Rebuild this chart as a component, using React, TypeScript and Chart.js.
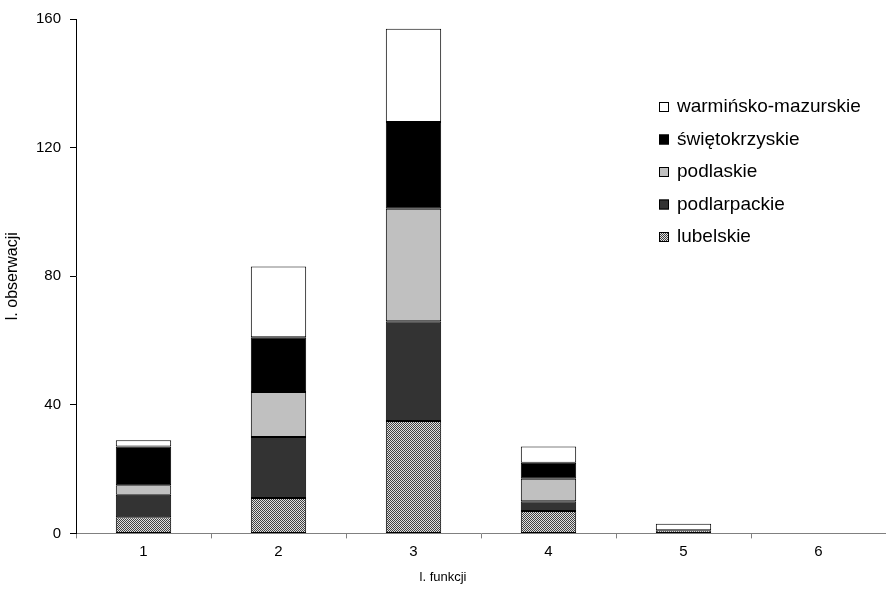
import React, { useEffect, useRef } from "react";
import { Chart, registerables } from "chart.js";

Chart.register(...registerables);

const categories = ["1", "2", "3", "4", "5", "6"];
const lubelskie = [5, 11, 35, 7, 1, 0];
const podkarpackie = [7, 19, 31, 3, 0, 0];
const podlaskie = [3, 14, 35, 7, 0, 0];
const swietokrzyskie = [12, 17, 27, 5, 0, 0];
const warminsko = [2, 22, 29, 5, 2, 0];
const seriesNames = ["lubelskie", "podlarpackie", "podlaskie", "świętokrzyskie", "warmińsko-mazurskie"];
const yTicks = [0, 40, 80, 120, 160];

const FONT = "'Liberation Sans', Arial, sans-serif";

function makePattern(): CanvasPattern | string {
  const c = document.createElement("canvas");
  c.width = 2;
  c.height = 2;
  const g = c.getContext("2d");
  if (!g) return "#888";
  g.fillStyle = "#e0e0e0";
  g.fillRect(0, 0, 2, 2);
  g.fillStyle = "#404040";
  g.fillRect(0, 0, 1, 1);
  g.fillRect(1, 1, 1, 1);
  const p = g.createPattern(c, "repeat");
  return p || "#888";
}

const legendPlugin = {
  id: "insideLegend",
  afterDraw(chart: any) {
    const ctx = chart.ctx;
    const ds = chart.data.datasets;
    ctx.save();
    ctx.font = `19px ${FONT}`;
    ctx.textBaseline = "middle";
    ctx.textAlign = "left";
    const x0 = 659;
    let y = 107;
    for (let i = ds.length - 1; i >= 0; i--) {
      const d = ds[i];
      ctx.fillStyle = d.backgroundColor;
      ctx.fillRect(x0, y - 5, 10, 10);
      ctx.strokeStyle = "#000";
      ctx.lineWidth = 1;
      ctx.strokeRect(x0 + 0.5, y - 4.5, 9, 9);
      ctx.fillStyle = "#000";
      ctx.fillText(d.label, 677, y);
      y += 32.5;
    }
    ctx.restore();
  },
};

export default function App() {
  const ref = useRef<HTMLCanvasElement | null>(null);
  useEffect(() => {
    if (!ref.current) return;
    const pattern = makePattern();
    const values = [lubelskie, podkarpackie, podlaskie, swietokrzyskie, warminsko];
    const colors: any[] = [pattern, "#333333", "#c0c0c0", "#000000", "#ffffff"];
    const chart = new Chart(ref.current, {
      type: "bar",
      data: {
        labels: categories,
        datasets: values.map((v, i) => ({
          label: seriesNames[i],
          data: v,
          backgroundColor: colors[i],
          borderColor: "#000000",
          borderWidth: (c: any) => (c.raw === 0 ? 0 : 1),
          borderSkipped: false,
          categoryPercentage: 1,
          barPercentage: 0.41,
        })),
      },
      options: {
        responsive: false,
        animation: false,
        layout: { padding: { top: 19, right: 0, left: 0, bottom: 0 } },
        plugins: {
          legend: { display: false },
          tooltip: { enabled: false },
          title: {
            display: true,
            position: "bottom",
            text: "l. funkcji",
            color: "#000",
            font: { family: FONT, size: 13, weight: "normal" },
            padding: { top: 0, bottom: 11 },
          },
        },
        scales: {
          x: {
            stacked: true,
            offset: true,
            border: { display: true, color: "#808080", width: 1 },
            grid: { display: true, drawOnChartArea: false, drawTicks: true, tickLength: 5, color: "#808080", offset: true },
            ticks: { color: "#000", font: { family: FONT, size: 15 }, padding: 4 },
            afterFit: (s: any) => { s.height = 36; },
          },
          y: {
            stacked: true,
            min: 0,
            max: 160,
            afterBuildTicks: (s: any) => { s.ticks = yTicks.map((v) => ({ value: v })); },
            border: { display: true, color: "#000", width: 1 },
            grid: { display: true, drawOnChartArea: false, drawTicks: true, tickLength: 6, color: "#000" },
            ticks: { color: "#000", font: { family: FONT, size: 15 }, padding: 9 },
            title: { display: true, text: "l. obserwacji", color: "#000", font: { family: FONT, size: 16 }, padding: { top: 3, bottom: 0 } },
            afterFit: (s: any) => { s.width = 76; },
          },
        },
      },
      plugins: [legendPlugin],
    });
    return () => chart.destroy();
  }, []);
  return (
    <div style={{ position: "absolute", left: 0, top: 0, width: 886, height: 596, background: "#fff" }}>
      <canvas ref={ref} width={886} height={596} style={{ display: "block", width: 886, height: 596 }} />
    </div>
  );
}
